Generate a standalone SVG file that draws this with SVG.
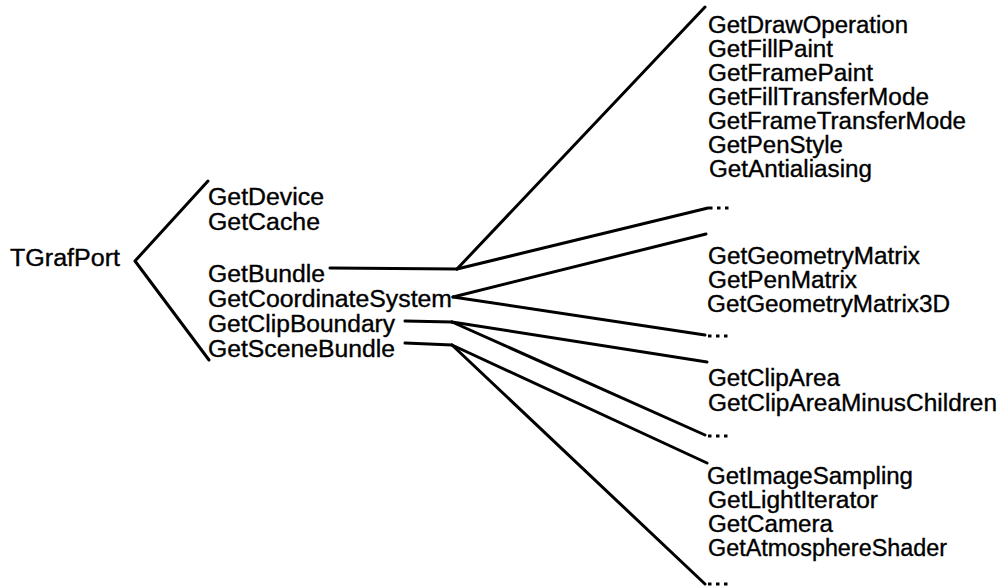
<svg xmlns="http://www.w3.org/2000/svg" width="1003" height="588" viewBox="0 0 1003 588">
  <style>
    .lbl { font-family: "Liberation Sans", Arial, Helvetica, sans-serif; font-size: 23px; fill: #000; stroke: #000; stroke-width: 0.35; }
    .conn { fill: none; stroke: #000; stroke-width: 3; stroke-linecap: round; stroke-linejoin: round; }
    .dot { fill: #000; }
  </style>
  <defs>
    <g id="ellipsis">
      <rect class="dot" x="0" y="-1.5" width="3.5" height="3"/>
      <rect class="dot" x="8" y="-1.5" width="3.5" height="3"/>
      <rect class="dot" x="16" y="-1.5" width="3.5" height="3"/>
    </g>
  </defs>
  <rect width="1003" height="588" fill="#fff"/>

  <!-- connectors -->
  <g id="connectors">
    <polyline class="conn" points="208,181 135,261 209,360"/>
    <!-- GetBundle branch -->
    <polyline class="conn" points="330,268 457,269"/>
    <line class="conn" x1="457" y1="269" x2="705" y2="7"/>
    <line class="conn" x1="457" y1="269" x2="708" y2="208"/>
    <!-- GetCoordinateSystem branch -->
    <line class="conn" x1="453" y1="297" x2="706" y2="234"/>
    <line class="conn" x1="453" y1="297" x2="705" y2="335"/>
    <!-- GetClipBoundary branch -->
    <polyline class="conn" points="405,321 452,322"/>
    <line class="conn" x1="452" y1="322" x2="707" y2="362"/>
    <line class="conn" x1="452" y1="322" x2="705" y2="435"/>
    <!-- GetSceneBundle branch -->
    <polyline class="conn" points="405,343 452,345"/>
    <line class="conn" x1="452" y1="345" x2="707" y2="463"/>
    <line class="conn" x1="452" y1="345" x2="705" y2="584"/>
  </g>

  <!-- root -->
  <g id="node-tgrafport"><text class="lbl" x="10" y="266" textLength="110" lengthAdjust="spacingAndGlyphs">TGrafPort</text></g>

  <!-- TGrafPort methods -->
  <g id="node-getdevice"><text class="lbl" x="208" y="205" textLength="116" lengthAdjust="spacingAndGlyphs">GetDevice</text></g>
  <g id="node-getcache"><text class="lbl" x="208" y="230" textLength="112" lengthAdjust="spacingAndGlyphs">GetCache</text></g>
  <g id="node-getbundle"><text class="lbl" x="208" y="282" textLength="117" lengthAdjust="spacingAndGlyphs">GetBundle</text></g>
  <g id="node-getcoordinatesystem"><text class="lbl" x="208" y="307" textLength="244" lengthAdjust="spacingAndGlyphs">GetCoordinateSystem</text></g>
  <g id="node-getclipboundary"><text class="lbl" x="208" y="332" textLength="187" lengthAdjust="spacingAndGlyphs">GetClipBoundary</text></g>
  <g id="node-getscenebundle"><text class="lbl" x="208" y="357" textLength="187" lengthAdjust="spacingAndGlyphs">GetSceneBundle</text></g>

  <!-- bundle methods -->
  <g id="node-getdrawoperation"><text class="lbl" x="708" y="33" textLength="200" lengthAdjust="spacingAndGlyphs">GetDrawOperation</text></g>
  <g id="node-getfillpaint"><text class="lbl" x="708" y="57" textLength="125" lengthAdjust="spacingAndGlyphs">GetFillPaint</text></g>
  <g id="node-getframepaint"><text class="lbl" x="708" y="81" textLength="165" lengthAdjust="spacingAndGlyphs">GetFramePaint</text></g>
  <g id="node-getfilltransfermode"><text class="lbl" x="708" y="105" textLength="221" lengthAdjust="spacingAndGlyphs">GetFillTransferMode</text></g>
  <g id="node-getframetransfermode"><text class="lbl" x="708" y="129" textLength="258" lengthAdjust="spacingAndGlyphs">GetFrameTransferMode</text></g>
  <g id="node-getpenstyle"><text class="lbl" x="708" y="153" textLength="135" lengthAdjust="spacingAndGlyphs">GetPenStyle</text></g>
  <g id="node-getantialiasing"><text class="lbl" x="709" y="177" textLength="163" lengthAdjust="spacingAndGlyphs">GetAntialiasing</text></g>
  <g id="node-bundle-more"><use href="#ellipsis" x="709" y="208"/></g>

  <!-- coordinate system methods -->
  <g id="node-getgeometrymatrix"><text class="lbl" x="708" y="264" textLength="212" lengthAdjust="spacingAndGlyphs">GetGeometryMatrix</text></g>
  <g id="node-getpenmatrix"><text class="lbl" x="708" y="288" textLength="149" lengthAdjust="spacingAndGlyphs">GetPenMatrix</text></g>
  <g id="node-getgeometrymatrix3d"><text class="lbl" x="707" y="312" textLength="243" lengthAdjust="spacingAndGlyphs">GetGeometryMatrix3D</text></g>
  <g id="node-coord-more"><use href="#ellipsis" x="708" y="336"/></g>

  <!-- clip boundary methods -->
  <g id="node-getcliparea"><text class="lbl" x="708" y="386" textLength="132" lengthAdjust="spacingAndGlyphs">GetClipArea</text></g>
  <g id="node-getclipareaminuschildren"><text class="lbl" x="708" y="411" textLength="289" lengthAdjust="spacingAndGlyphs">GetClipAreaMinusChildren</text></g>
  <g id="node-clip-more"><use href="#ellipsis" x="708" y="436"/></g>

  <!-- scene bundle methods -->
  <g id="node-getimagesampling"><text class="lbl" x="707" y="484" textLength="206" lengthAdjust="spacingAndGlyphs">GetImageSampling</text></g>
  <g id="node-getlightiterator"><text class="lbl" x="708" y="508" textLength="170" lengthAdjust="spacingAndGlyphs">GetLightIterator</text></g>
  <g id="node-getcamera"><text class="lbl" x="708" y="532" textLength="125" lengthAdjust="spacingAndGlyphs">GetCamera</text></g>
  <g id="node-getatmosphereshader"><text class="lbl" x="708" y="556" textLength="239" lengthAdjust="spacingAndGlyphs">GetAtmosphereShader</text></g>
  <g id="node-scene-more"><use href="#ellipsis" x="708" y="584"/></g>
</svg>
